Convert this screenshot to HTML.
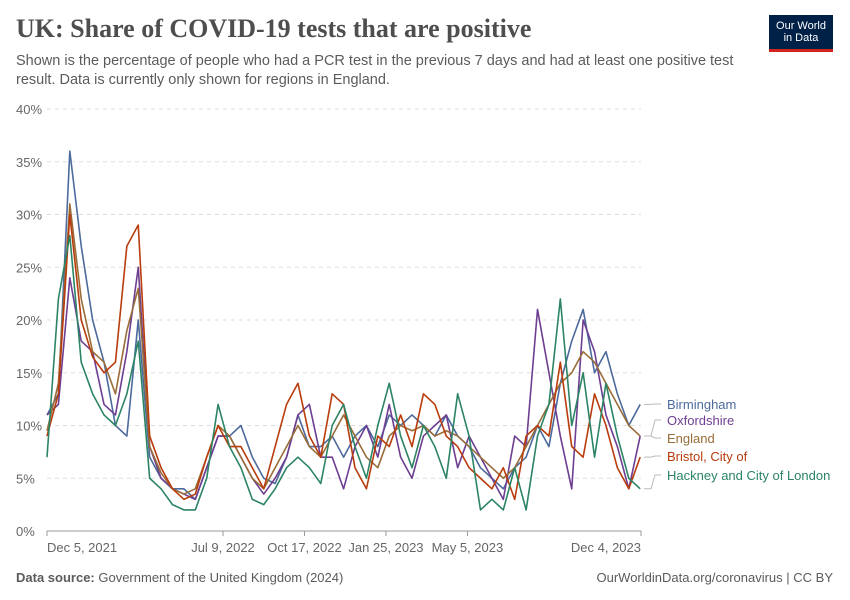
<!DOCTYPE html>
<html><head><meta charset="utf-8"><style>
body{margin:0;background:#fff;width:850px;height:600px;overflow:hidden;font-family:"Liberation Sans",sans-serif}
#t{position:absolute;left:16px;top:14px;font-family:"Liberation Serif",serif;font-size:26px;font-weight:bold;color:#4e4e4e;margin:0}
#s{position:absolute;left:16px;top:52px;width:740px;font-size:14.5px;line-height:19px;color:#5b5b5b}
#logo{position:absolute;left:769px;top:15px;width:64px;height:37px;background:#002147;border-bottom:3px solid #ce261e;color:#fff;font-size:11px;line-height:12px;text-align:center;padding-top:5px;box-sizing:border-box}
.f{position:absolute;top:570px;font-size:13px;color:#5b5b5b}
</style></head><body>
<h1 id="t">UK: Share of COVID-19 tests that are positive</h1>
<div id="s">Shown is the percentage of people who had a PCR test in the previous 7 days and had at least one positive test result. Data is currently only shown for regions in England.</div>
<div id="logo">Our World<br>in Data</div>
<svg id="c" width="850" height="600" style="position:absolute;left:0;top:0"></svg>
<div class="f" style="left:16px"><b>Data source:</b> Government of the United Kingdom (2024)</div>
<div class="f" style="right:17px">OurWorldinData.org/coronavirus | CC BY</div>
<script>
const yTicks=[0,5,10,15,20,25,30,35,40];
const xTickLabels=["Dec 5, 2021","Jul 9, 2022","Oct 17, 2022","Jan 25, 2023","May 5, 2023","Dec 4, 2023"];
const xTickDays=[0,216,316,416,516,729];
const stepDays=14;
const seriesNames=["Birmingham","Oxfordshire","England","Bristol, City of","Hackney and City of London"];
const birmingham=[11,13,36,27,20,16,10,9,20,7,5,4,4,3,6,9,9,10,7,5,4.5,7,11,8,8,9,7,9,10,8,11,10,11,10,9,11,9,8,6,5,4,6,7,10,8,14,18,21,15,17,13,10,12];
const oxfordshire=[11,12,24,18,17,12,11,17,25,8,5,4,3.5,3,6,9,9,7,5,3.5,5,7,11,12,7,7,4,8,10,7,12,7,5,9,10,11,6,9,7,5,3,9,8,21,15,9,4,20,17,11,8,4,9];
const england=[9.5,14,31,22,17,16,13,19,23,8,5.5,4,3.5,4,7,10,9,7,5,4,6,8,10,8,7,9,11,9,7,6,9,10,9.5,10,9,9.5,9,8,7,6,5,6,8,10,12,14,15,17,16,14,12,10,9];
const bristol=[9,13,30,20,16.5,15,16,27,29,9,6,4,3,3.5,7,10,8,8,6,4,8,12,14,9,7,13,12,6,4,9,8,11,8,13,12,9,8,6,5,4,6,3,9,10,9,16,8,7,13,10,6,4,7];
const hackney=[7,22,28,16,13,11,10,13,18,5,4,2.5,2,2,5,12,8,6,3,2.5,4,6,7,6,4.5,10,12,8,5,10,14,9,6,10,8,5,13,9,2,3,2,6,2,9,12,22,10,15,7,14,9,5,4];
const seriesData=[birmingham,oxfordshire,england,bristol,hackney];
const colors=["#4C6A9C","#6D3E91","#996D39","#B83C0C","#2C8465"];
const labelY=[408,424,442,460,479];
const X0=47,X1=641,Y0=531,Y1=109,D=729;
const xs=d=>X0+(X1-X0)*d/D, ys=v=>Y0-(Y0-Y1)*v/40;
const svg=document.getElementById('c'),NS="http://www.w3.org/2000/svg";
function mk(t,a){const e=document.createElementNS(NS,t);for(const k in a)e.setAttribute(k,a[k]);svg.appendChild(e);return e;}
yTicks.forEach(v=>{
 const l=mk('line',{x1:X0,x2:X1,y1:ys(v),y2:ys(v),stroke:v?'#ddd':'#999','stroke-dasharray':v?'4,4':''});
 
 
 const t=mk('text',{x:16,y:ys(v)+5,'font-size':13,fill:'#666','font-family':'Liberation Sans'});t.textContent=v+'%';
 
 
});
xTickLabels.forEach((s,i)=>{
 const x=xs(xTickDays[i]);
 const tk=mk('line',{x1:x,x2:x,y1:Y0,y2:Y0+5,stroke:'#999'});
 
 
 const anchor=i==0?'start':(i==xTickLabels.length-1?'end':'middle');
 const t=mk('text',{x:x,y:552,'font-size':13,fill:'#666','text-anchor':anchor,'font-family':'Liberation Sans'});t.textContent=s;
 
 
});
seriesData.forEach((arr,si)=>{
 const pts=arr.map((v,i)=>xs(i*stepDays)+','+ys(v)).join(' ');
 const p=mk('polyline',{points:pts,fill:'none',stroke:colors[si],'stroke-width':1.6,'stroke-linejoin':'round'});
 
 
 const last=arr[arr.length-1];
 const c=mk('polyline',{points:`${X1+3},${ys(last)} ${X1+10},${ys(last)} ${X1+14},${labelY[si]-4} ${X1+20},${labelY[si]-4}`,fill:'none',stroke:'#bbb','stroke-width':1});
 
 
 const t=mk('text',{x:667,y:labelY[si]+1,'font-size':13,fill:colors[si],'font-family':'Liberation Sans'});t.textContent=seriesNames[si];
 
 
});
</script>
</body></html>
